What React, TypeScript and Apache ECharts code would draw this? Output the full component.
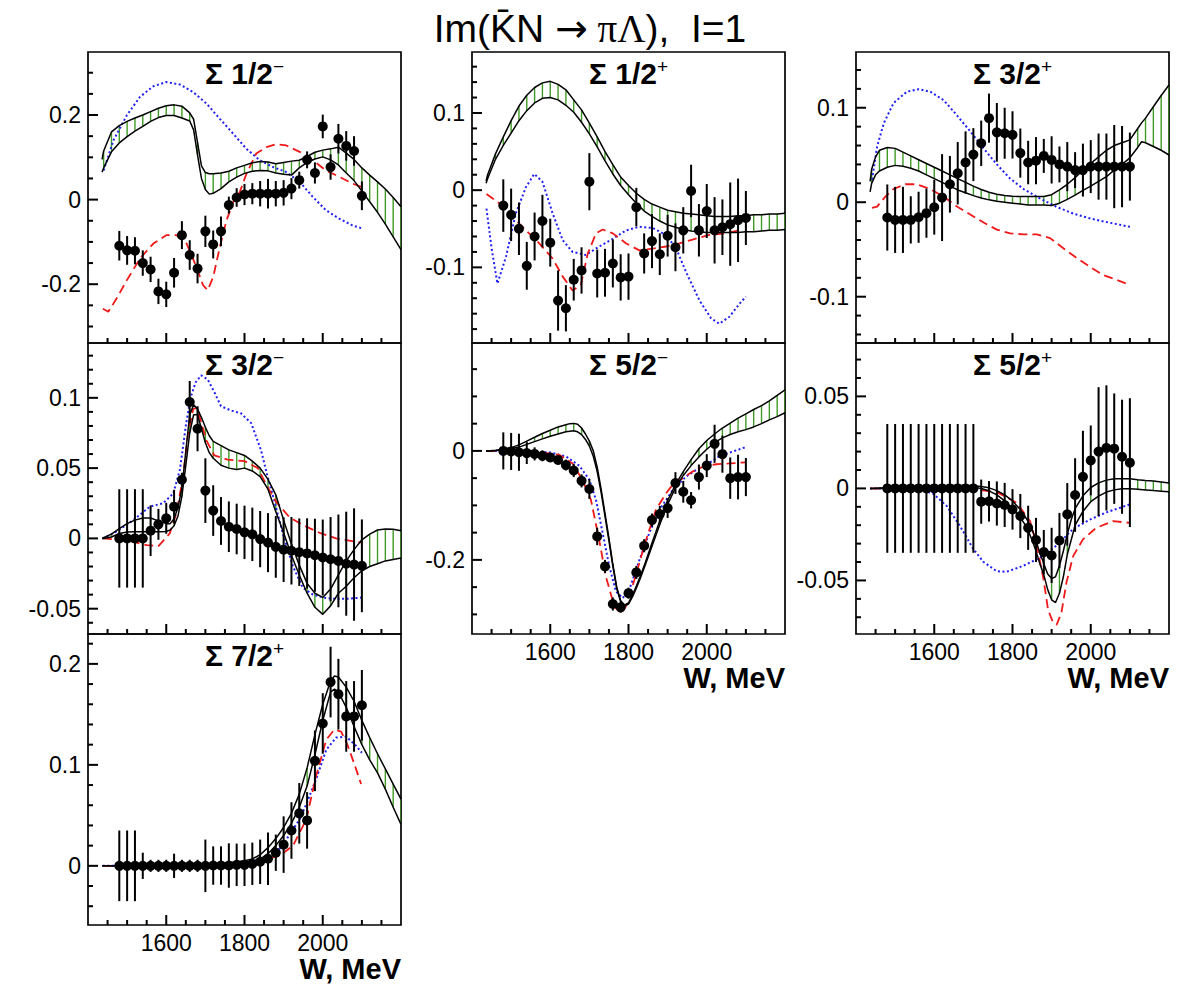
import React, { useEffect, useRef } from 'react';
import * as echarts from 'echarts';

// ---- energies of the single-energy solutions (MeV) ----
const W_POINTS = [1480, 1500, 1520, 1540, 1560, 1580, 1600, 1620, 1640, 1660, 1680, 1700, 1720, 1740, 1760, 1780,
  1800, 1820, 1840, 1860, 1880, 1900, 1920, 1940, 1960, 1980, 2000, 2020, 2040, 2060, 2080, 2100];

// ---- Σ 1/2− ----
const S12M_VAL = [-0.109, -0.120, -0.121, -0.150, -0.165, -0.217, -0.224, -0.173, -0.084, -0.131, -0.163, -0.075, -0.106, -0.075, -0.013, 0.005,
  0.012, 0.014, 0.014, 0.014, 0.014, 0.016, 0.026, 0.046, 0.094, 0.063, 0.173, 0.077, 0.144, 0.127, 0.115, 0.009];
const S12M_ERR = [0.035, 0.034, 0.032, 0.03, 0.03, 0.03, 0.03, 0.035, 0.033, 0.035, 0.035, 0.037, 0.033, 0.035, 0.02, 0.022,
  0.025, 0.025, 0.03, 0.035, 0.03, 0.03, 0.025, 0.02, 0.02, 0.025, 0.028, 0.03, 0.035, 0.035, 0.035, 0.034];
const S12M_BAND_W = [1436, 1440, 1460, 1480, 1500, 1520, 1540, 1560, 1580, 1600, 1620, 1640, 1660, 1670, 1680, 1690, 1700, 1710, 1720,
  1740, 1760, 1780, 1800, 1820, 1840, 1860, 1880, 1900, 1920, 1940, 1960, 1980, 2000, 2020, 2040, 2060, 2080, 2100, 2120, 2140, 2160, 2180, 2200];
const S12M_BAND_HI = [0.095, 0.115, 0.16, 0.175, 0.185, 0.193, 0.2, 0.208, 0.216, 0.222, 0.224, 0.221, 0.205, 0.19, 0.135, 0.08, 0.064, 0.061, 0.061,
  0.063, 0.067, 0.075, 0.081, 0.087, 0.09, 0.089, 0.085, 0.088, 0.091, 0.093, 0.102, 0.112, 0.117, 0.12, 0.124, 0.11, 0.095, 0.075, 0.058, 0.042, 0.025, 0.005, -0.017];
const S12M_BAND_LO = [0.065, 0.075, 0.113, 0.134, 0.149, 0.162, 0.173, 0.185, 0.194, 0.199, 0.199, 0.193, 0.186, 0.165, 0.105, 0.05, 0.024, 0.013, 0.015,
  0.026, 0.042, 0.053, 0.062, 0.067, 0.069, 0.068, 0.063, 0.06, 0.058, 0.075, 0.088, 0.096, 0.101, 0.094, 0.082, 0.063, 0.045, 0.02, -0.005, -0.03, -0.058, -0.088, -0.118];
const S12M_BLUE = [[1440, 0.069], [1465, 0.14], [1499, 0.199], [1533, 0.243], [1567, 0.268], [1600, 0.278], [1635, 0.272], [1669, 0.254],
  [1703, 0.227], [1737, 0.191], [1771, 0.156], [1805, 0.12], [1839, 0.093], [1873, 0.077], [1907, 0.065], [1941, 0.042], [1975, 0.006],
  [2008, -0.025], [2042, -0.045], [2076, -0.061], [2100, -0.068]];
const S12M_RED = [[1438, -0.258], [1452, -0.265], [1473, -0.234], [1499, -0.191], [1533, -0.139], [1567, -0.104], [1600, -0.084], [1626, -0.084],
  [1652, -0.104], [1677, -0.159], [1694, -0.202], [1706, -0.214], [1720, -0.183], [1737, -0.112], [1754, -0.049], [1771, -0.006], [1788, 0.018],
  [1805, 0.061], [1830, 0.109], [1856, 0.124], [1881, 0.131], [1907, 0.128], [1941, 0.113], [1975, 0.093], [2008, 0.069], [2042, 0.054],
  [2076, 0.038], [2098, 0.03]];

// ---- Σ 3/2− ----
const S32M_VAL = [0, 0, 0, 0, 0.0055, 0.01, 0.0143, 0.0226, 0.0417, 0.097, 0.078, 0.034, 0.0198, 0.0124, 0.0083, 0.0067,
  0.0043, 0.0029, -0.0005, -0.003, -0.006, -0.008, -0.0088, -0.0098, -0.0107, -0.012, -0.0136, -0.0148, -0.016, -0.018, -0.0186, -0.0195];
const S32M_ERR = [0.035, 0.035, 0.035, 0.035, 0.018, 0.011, 0.011, 0.012, 0.005, 0.015, 0.016, 0.023, 0.018, 0.017, 0.018, 0.018,
  0.019, 0.019, 0.02, 0.021, 0.022, 0.023, 0.024, 0.024, 0.025, 0.026, 0.027, 0.03, 0.033, 0.037, 0.04, 0.033];
const S32M_BAND_W = [1436, 1440, 1460, 1480, 1500, 1520, 1540, 1560, 1580, 1600, 1610, 1620, 1630, 1640, 1650, 1660, 1670, 1680, 1690, 1700, 1710, 1720,
  1740, 1760, 1780, 1800, 1820, 1840, 1860, 1880, 1900, 1920, 1940, 1960, 1980, 2000, 2020, 2040, 2060, 2080, 2100, 2120, 2140, 2160, 2180, 2200];
const S32M_BAND_HI = [0, 0.0005, 0.003, 0.007, 0.0105, 0.013, 0.0145, 0.0145, 0.0125, 0.0105, 0.0105, 0.014, 0.022, 0.036, 0.062, 0.088, 0.095, 0.092, 0.086, 0.079, 0.073, 0.069,
  0.066, 0.063, 0.061, 0.059, 0.055, 0.05, 0.042, 0.031, 0.013, -0.004, -0.019, -0.032, -0.039, -0.042, -0.036, -0.026, -0.016, -0.008, -0.001, 0.003, 0.006, 0.0067, 0.0065, 0.0055];
const S32M_BAND_LO = [0, 0, 0.001, 0.0035, 0.0045, 0.0048, 0.0048, 0.0048, 0.0048, 0.005, 0.006, 0.009, 0.016, 0.03, 0.052, 0.075, 0.088, 0.088, 0.078, 0.068, 0.061, 0.057,
  0.052, 0.05, 0.049, 0.05, 0.048, 0.044, 0.035, 0.019, 0.004, -0.012, -0.026, -0.039, -0.049, -0.054, -0.048, -0.039, -0.034, -0.028, -0.023, -0.02, -0.018, -0.016, -0.015, -0.014];
const S32M_BLUE = [[1438, 0], [1473, 0.005], [1516, 0.013], [1558, 0.0226], [1592, 0.025], [1618, 0.032], [1635, 0.049], [1650, 0.08], [1662, 0.1],
  [1675, 0.111], [1689, 0.116], [1706, 0.113], [1723, 0.104], [1740, 0.094], [1766, 0.091], [1791, 0.089], [1817, 0.082], [1842, 0.063],
  [1859, 0.044], [1873, 0.03], [1898, 0.0036], [1924, -0.02], [1949, -0.035], [1975, -0.04], [2000, -0.042], [2026, -0.043], [2060, -0.043], [2102, -0.042]];
const S32M_RED = [[1438, 0], [1473, -0.0007], [1516, -0.0024], [1550, -0.0048], [1580, -0.0055], [1609, 0.0036], [1626, 0.018], [1643, 0.044],
  [1656, 0.075], [1669, 0.092], [1679, 0.093], [1690, 0.082], [1702, 0.07], [1723, 0.059], [1757, 0.056], [1800, 0.055], [1834, 0.05],
  [1856, 0.038], [1881, 0.026], [1915, 0.015], [1949, 0.0095], [1992, 0.004], [2034, 0], [2076, -0.002], [2102, -0.003]];

// ---- Σ 7/2+ ----
const S72P_VAL = [0, 0, 0, 0, 0, 0, 0, 0, 0, 0, 0, 0, 0.0003, 0.0003, 0.0003, 0.001,
  0.001, 0.002, 0.004, 0.007, 0.013, 0.021, 0.035, 0.052, 0.045, 0.104, 0.141, 0.182, 0.17, 0.148, 0.148, 0.159];
const S72P_ERR = [0.035, 0.035, 0.035, 0.013, 0.006, 0.006, 0.006, 0.012, 0.006, 0.006, 0.006, 0.026, 0.019, 0.019, 0.022, 0.021,
  0.021, 0.021, 0.022, 0.026, 0.018, 0.028, 0.028, 0.03, 0.028, 0.03, 0.03, 0.035, 0.035, 0.035, 0.035, 0.035];
const S72P_BAND_W = [1436, 1440, 1460, 1480, 1500, 1520, 1540, 1560, 1580, 1600, 1620, 1640, 1660, 1680, 1700, 1720, 1740, 1760, 1780, 1800,
  1820, 1840, 1860, 1880, 1900, 1920, 1940, 1960, 1980, 2000, 2020, 2030, 2040, 2060, 2080, 2100, 2120, 2140, 2160, 2180, 2200];
const S72P_BAND_HI = [0, 0, 0.0001, 0.0002, 0.0003, 0.0004, 0.0005, 0.0006, 0.0007, 0.0008, 0.0009, 0.001, 0.001, 0.001, 0.001, 0.0015, 0.002, 0.003, 0.004, 0.005,
  0.0068, 0.011, 0.018, 0.027, 0.038, 0.052, 0.071, 0.097, 0.13, 0.16, 0.183, 0.188, 0.187, 0.177, 0.163, 0.144, 0.127, 0.111, 0.096, 0.081, 0.066];
const S72P_BAND_LO = [0, 0, 0, 0, 0, 0, 0, 0, 0.0001, 0.0002, 0.0003, 0.0004, 0.0005, 0.0006, 0.0008, 0.001, 0.0013, 0.0017, 0.0022, 0.003,
  0.004, 0.0066, 0.012, 0.02, 0.03, 0.042, 0.058, 0.079, 0.11, 0.144, 0.172, 0.175, 0.172, 0.157, 0.138, 0.12, 0.105, 0.092, 0.076, 0.058, 0.041];
const S72P_BLUE = [[1438, 0], [1700, 0], [1780, 0.001], [1839, 0.0066], [1882, 0.013], [1907, 0.026], [1941, 0.046], [1960, 0.063],
  [1983, 0.086], [2009, 0.115], [2034, 0.127], [2060, 0.128], [2085, 0.119], [2100, 0.112]];
const S72P_RED = [[1438, 0], [1700, 0], [1780, 0.001], [1839, 0.005], [1890, 0.01], [1924, 0.02], [1958, 0.046], [1983, 0.089],
  [2009, 0.125], [2030, 0.135], [2047, 0.133], [2064, 0.119], [2085, 0.096], [2098, 0.081]];

// ---- Σ 1/2+ ----
const S12P_VAL = [-0.02, -0.032, -0.05, -0.098, -0.06, -0.04, -0.068, -0.143, -0.153, -0.116, -0.104, 0.011, -0.108, -0.107, -0.095, -0.113,
  -0.112, -0.022, -0.082, -0.066, -0.083, -0.059, -0.074, -0.052, -0.001, -0.052, -0.027, -0.052, -0.048, -0.044, -0.039, -0.036];
const S12P_ERR = [0.034, 0.034, 0.034, 0.031, 0.031, 0.034, 0.031, 0.039, 0.03, 0.027, 0.03, 0.037, 0.031, 0.031, 0.031, 0.03,
  0.03, 0.025, 0.026, 0.035, 0.027, 0.027, 0.031, 0.03, 0.034, 0.034, 0.035, 0.043, 0.036, 0.054, 0.054, 0.035];
const S12P_BAND_W = [1436, 1440, 1460, 1480, 1500, 1520, 1540, 1560, 1580, 1600, 1620, 1640, 1660, 1680, 1700, 1720, 1740, 1760, 1780, 1800,
  1820, 1840, 1860, 1880, 1900, 1920, 1940, 1960, 1980, 2000, 2020, 2040, 2060, 2080, 2100, 2120, 2140, 2160, 2180, 2200];
const S12P_BAND_HI = [0.012, 0.02, 0.047, 0.069, 0.09, 0.109, 0.123, 0.133, 0.139, 0.141, 0.137, 0.13, 0.117, 0.104, 0.087, 0.069, 0.05, 0.033, 0.017, 0.006,
  -0.004, -0.012, -0.018, -0.022, -0.026, -0.028, -0.03, -0.031, -0.032, -0.033, -0.034, -0.034, -0.034, -0.033, -0.033, -0.032, -0.032, -0.031, -0.031, -0.03];
const S12P_BAND_LO = [0.009, 0.015, 0.04, 0.058, 0.074, 0.09, 0.103, 0.113, 0.119, 0.12, 0.117, 0.11, 0.101, 0.088, 0.073, 0.056, 0.038, 0.021, 0.006, -0.006,
  -0.017, -0.027, -0.034, -0.04, -0.045, -0.048, -0.051, -0.053, -0.054, -0.055, -0.055, -0.055, -0.055, -0.055, -0.054, -0.054, -0.053, -0.052, -0.052, -0.051];
const S12P_BLUE = [[1437, -0.024], [1450, -0.075], [1465, -0.121], [1487, -0.086], [1512, -0.03], [1538, 0.004], [1559, 0.021], [1580, 0.011],
  [1606, -0.03], [1632, -0.065], [1657, -0.08], [1691, -0.084], [1725, -0.073], [1760, -0.063], [1794, -0.052], [1828, -0.0475], [1862, -0.049],
  [1896, -0.058], [1922, -0.0756], [1947, -0.106], [1981, -0.1425], [2011, -0.166], [2032, -0.173], [2058, -0.164], [2084, -0.147], [2100, -0.138]];
const S12P_RED = [[1437, -0.005], [1470, -0.017], [1504, -0.035], [1538, -0.052], [1572, -0.069], [1606, -0.0885], [1632, -0.112], [1657, -0.13],
  [1678, -0.123], [1696, -0.082], [1717, -0.056], [1734, -0.051], [1760, -0.056], [1794, -0.069], [1828, -0.078], [1862, -0.0756], [1896, -0.073],
  [1930, -0.069], [1964, -0.064], [2007, -0.058], [2049, -0.056], [2084, -0.052]];

// ---- Σ 5/2− ----
const S52M_VAL = [0, -0.001, -0.0025, -0.004, -0.0055, -0.009, -0.012, -0.0165, -0.026, -0.036, -0.055, -0.07, -0.157, -0.212, -0.281, -0.287,
  -0.261, -0.223, -0.174, -0.127, -0.116, -0.105, -0.059, -0.075, -0.0905, -0.048, -0.027, 0.013, -0.006, -0.05, -0.048, -0.048];
const S52M_ERR = [0.034, 0.034, 0.034, 0.02, 0.012, 0.01, 0.008, 0.008, 0.01, 0.012, 0.012, 0.018, 0.016, 0.012, 0.012, 0.01,
  0.01, 0.012, 0.012, 0.012, 0.015, 0.018, 0.02, 0.02, 0.015, 0.023, 0.021, 0.035, 0.034, 0.038, 0.041, 0.035];
const S52M_BAND_W = [1436, 1440, 1460, 1480, 1500, 1520, 1540, 1560, 1580, 1600, 1620, 1640,
  1650, 1660, 1670, 1680, 1690, 1700, 1710, 1720, 1730, 1740, 1750, 1760, 1770, 1780, 1790, 1800, 1810, 1820, 1830, 1840, 1850, 1860,
  1880, 1900, 1920, 1940, 1960, 1980, 2000, 2020, 2040, 2060, 2080, 2100, 2120, 2140, 2160, 2180, 2200];
const S52M_BAND_HI = [0, 0, 0.001, 0.003, 0.006, 0.011, 0.018, 0.025, 0.032, 0.038, 0.044, 0.048,
  0.05, 0.0505, 0.049, 0.042, 0.031, 0.018, 0, -0.03, -0.07, -0.115, -0.16, -0.208, -0.25, -0.275, -0.283, -0.279, -0.265, -0.248, -0.23, -0.211, -0.19, -0.169,
  -0.128, -0.091, -0.062, -0.038, -0.016, 0.004, 0.019, 0.031, 0.042, 0.051, 0.06, 0.068, 0.076, 0.083, 0.092, 0.102, 0.112];
const S52M_BAND_LO = [0, 0, 0.0005, 0.002, 0.004, 0.007, 0.012, 0.017, 0.022, 0.027, 0.031, 0.035,
  0.036, 0.037, 0.035, 0.03, 0.021, 0.009, -0.01, -0.038, -0.076, -0.12, -0.165, -0.212, -0.253, -0.277, -0.285, -0.281, -0.268, -0.252, -0.234, -0.215, -0.195, -0.175,
  -0.135, -0.098, -0.068, -0.045, -0.027, -0.011, 0.003, 0.015, 0.024, 0.03, 0.035, 0.039, 0.044, 0.05, 0.057, 0.063, 0.07];
const S52M_BLUE = [[1436, 0], [1512, -0.001], [1597, -0.0025], [1640, -0.01], [1674, -0.027], [1700, -0.053], [1717, -0.09], [1734, -0.151],
  [1751, -0.212], [1768, -0.258], [1785, -0.27], [1802, -0.255], [1828, -0.2], [1853, -0.151], [1879, -0.108], [1913, -0.072], [1947, -0.047],
  [1973, -0.035], [1998, -0.026], [2032, -0.01], [2067, -0.001], [2100, 0.007]];
const S52M_RED = [[1436, 0], [1555, -0.001], [1623, -0.007], [1657, -0.023], [1682, -0.053], [1704, -0.09], [1725, -0.163], [1742, -0.23],
  [1764, -0.286], [1781, -0.298], [1793, -0.286], [1815, -0.237], [1845, -0.163], [1870, -0.108], [1896, -0.078], [1913, -0.062], [1939, -0.05],
  [1964, -0.038], [1990, -0.029], [2024, -0.0245], [2058, -0.023], [2100, -0.021]];

// ---- Σ 3/2+ ----
const S32P_VAL = [-0.0162, -0.0187, -0.0187, -0.0187, -0.0159, -0.0116, -0.0053, 0.0049, 0.019, 0.0307, 0.042, 0.0504, 0.0624, 0.089, 0.074, 0.073,
  0.0713, 0.052, 0.042, 0.044, 0.049, 0.0448, 0.04, 0.0377, 0.034, 0.034, 0.0377, 0.0377, 0.0377, 0.0377, 0.0377, 0.0377];
const S32P_ERR = [0.035, 0.035, 0.035, 0.025, 0.027, 0.026, 0.029, 0.046, 0.03, 0.033, 0.033, 0.028, 0.024, 0.026, 0.031, 0.027,
  0.025, 0.026, 0.023, 0.025, 0.018, 0.025, 0.019, 0.026, 0.019, 0.028, 0.028, 0.035, 0.035, 0.044, 0.043, 0.036];
const S32P_BAND_W = [1436, 1440, 1450, 1460, 1480, 1500, 1520, 1540, 1560, 1580, 1600, 1620, 1640, 1660, 1680, 1700, 1720, 1740, 1760, 1780, 1800,
  1820, 1840, 1860, 1880, 1900, 1920, 1940, 1960, 1980, 2000, 2020, 2040, 2060, 2080, 2100, 2120, 2130, 2140, 2160, 2180, 2200];
const S32P_BAND_HI = [0.022, 0.035, 0.048, 0.055, 0.058, 0.057, 0.053, 0.049, 0.045, 0.041, 0.037, 0.033, 0.029, 0.025, 0.021, 0.017, 0.0135, 0.0105, 0.0085, 0.007, 0.0062,
  0.006, 0.006, 0.006, 0.006, 0.008, 0.013, 0.019, 0.026, 0.034, 0.041, 0.048, 0.055, 0.06, 0.063, 0.066, 0.078, 0.084, 0.089, 0.101, 0.113, 0.124];
const S32P_BAND_LO = [0.011, 0.02, 0.029, 0.033, 0.037, 0.039, 0.038, 0.036, 0.033, 0.029, 0.025, 0.021, 0.017, 0.013, 0.01, 0.007, 0.0045, 0.0025, 0.001, 0, -0.001,
  -0.002, -0.003, -0.003, -0.003, -0.0035, -0.001, 0.003, 0.0075, 0.0125, 0.017, 0.022, 0.027, 0.034, 0.04, 0.047, 0.058, 0.064, 0.063, 0.059, 0.055, 0.05];
const S32P_BLUE = [[1441, 0.024], [1454, 0.059], [1471, 0.0836], [1496, 0.105], [1530, 0.117], [1560, 0.1196], [1590, 0.117], [1624, 0.108],
  [1658, 0.092], [1692, 0.075], [1726, 0.057], [1760, 0.04], [1794, 0.025], [1828, 0.014], [1853, 0.008], [1870, 0.004], [1913, -0.005],
  [1955, -0.012], [1997, -0.017], [2040, -0.021], [2100, -0.026]];
const S32P_RED = [[1441, -0.006], [1454, -0.0046], [1475, 0.006], [1496, 0.014], [1526, 0.019], [1556, 0.019], [1590, 0.0138], [1624, 0.006],
  [1658, -0.0046], [1692, -0.013], [1726, -0.0215], [1760, -0.029], [1794, -0.033], [1828, -0.034], [1862, -0.034], [1896, -0.038],
  [1930, -0.0487], [1964, -0.059], [1997, -0.068], [2031, -0.077], [2065, -0.082], [2100, -0.0875]];

// ---- Σ 5/2+ ----
const S52P_VAL = [0, 0, 0, 0, 0, 0, 0, 0, 0, 0, 0, 0, -0.0072, -0.007, -0.0082, -0.009,
  -0.0114, -0.015, -0.0214, -0.028, -0.0346, -0.0364, -0.0283, -0.0141, -0.0036, 0.0063, 0.0152, 0.02, 0.022, 0.0216, 0.0172, 0.014];
const S52P_ERR = [0.035, 0.035, 0.035, 0.035, 0.035, 0.035, 0.035, 0.035, 0.035, 0.035, 0.035, 0.035, 0.012, 0.011, 0.012, 0.012,
  0.011, 0.012, 0.012, 0.012, 0.012, 0.015, 0.015, 0.017, 0.02, 0.025, 0.019, 0.035, 0.034, 0.03, 0.031, 0.035];
const S52P_BAND_W = [1436, 1440, 1460, 1480, 1500, 1520, 1540, 1560, 1580, 1600, 1620, 1640, 1660, 1680, 1700, 1720, 1740, 1760, 1780, 1800, 1820,
  1830, 1840, 1850, 1860, 1870, 1880, 1890, 1900, 1910, 1920, 1930, 1940, 1950, 1960,
  1980, 2000, 2020, 2040, 2060, 2080, 2100, 2120, 2140, 2160, 2180, 2200];
const S52P_BAND_HI = [0, 0, 0.0002, 0.0004, 0.0006, 0.0008, 0.001, 0.0012, 0.0013, 0.0014, 0.0015, 0.0016, 0.0016, 0.0016, 0.0015, 0.001, 0.0003, -0.0012, -0.0035, -0.0068, -0.0115,
  -0.0145, -0.018, -0.022, -0.0285, -0.035, -0.041, -0.0465, -0.049, -0.048, -0.042, -0.034, -0.025, -0.017, -0.011,
  -0.004, 0.0005, 0.003, 0.0045, 0.0052, 0.0053, 0.0052, 0.0047, 0.0043, 0.004, 0.0035, 0.003];
const S52P_BAND_LO = [0, 0, 0, 0.0001, 0.0002, 0.0003, 0.0004, 0.0005, 0.0006, 0.0007, 0.0007, 0.0008, 0.0008, 0.0008, 0.0007, 0, -0.0013, -0.0035, -0.0068, -0.011, -0.0158,
  -0.019, -0.023, -0.028, -0.034, -0.041, -0.047, -0.055, -0.0605, -0.062, -0.057, -0.048, -0.036, -0.028, -0.02,
  -0.0125, -0.0072, -0.0042, -0.002, -0.0008, -0.0002, -0.0002, -0.0004, -0.0008, -0.0012, -0.0015, -0.0018];
const S52P_BLUE = [[1436, 0], [1530, -0.0002], [1573, -0.001], [1598, -0.003], [1632, -0.0096], [1666, -0.0205], [1700, -0.033], [1726, -0.04],
  [1760, -0.045], [1785, -0.0453], [1828, -0.042], [1870, -0.0377], [1913, -0.031], [1955, -0.022], [1997, -0.017], [2040, -0.013], [2100, -0.0087]];
const S52P_RED = [[1436, 0], [1573, -0.0005], [1700, -0.0005], [1760, -0.002], [1811, -0.0078], [1845, -0.0178], [1862, -0.031], [1879, -0.049],
  [1891, -0.066], [1904, -0.073], [1913, -0.074], [1925, -0.0676], [1938, -0.051], [1955, -0.0368], [1980, -0.0277], [2014, -0.0214],
  [2057, -0.0178], [2100, -0.0187]];

// ---- axis ticks ----
const X_RANGE = [1400, 2200];
const X_MAJOR = [1600, 1800, 2000];
const X_MINOR = [1450, 1500, 1550, 1650, 1700, 1750, 1850, 1900, 1950, 2050, 2100, 2150];
const S12M_Y = { min: -0.339, max: 0.349, major: [-0.2, 0, 0.2], minor: [-0.3, -0.25, -0.15, -0.1, -0.05, 0.05, 0.1, 0.15, 0.25, 0.3] };
const S32M_Y = { min: -0.068, max: 0.139, major: [-0.05, 0, 0.05, 0.1], minor: [-0.06, -0.04, -0.03, -0.02, -0.01, 0.01, 0.02, 0.03, 0.04, 0.06, 0.07, 0.08, 0.09, 0.11, 0.12, 0.13] };
const S72P_Y = { min: -0.0586, max: 0.2296, major: [0, 0.1, 0.2], minor: [-0.04, -0.02, 0.02, 0.04, 0.06, 0.08, 0.12, 0.14, 0.16, 0.18, 0.22] };
const S12P_Y = { min: -0.198, max: 0.179, major: [-0.1, 0, 0.1], minor: [-0.18, -0.16, -0.14, -0.12, -0.08, -0.06, -0.04, -0.02, 0.02, 0.04, 0.06, 0.08, 0.12, 0.14, 0.16] };
const S52M_Y = { min: -0.336, max: 0.198, major: [-0.2, 0], minor: [-0.3, -0.25, -0.15, -0.1, -0.05, 0.05, 0.1, 0.15] };
const S32P_Y = { min: -0.149, max: 0.159, major: [-0.1, 0, 0.1], minor: [-0.14, -0.12, -0.08, -0.06, -0.04, -0.02, 0.02, 0.04, 0.06, 0.08, 0.12, 0.14] };
const S52P_Y = { min: -0.0791, max: 0.079, major: [-0.05, 0, 0.05], minor: [-0.07, -0.06, -0.04, -0.03, -0.02, -0.01, 0.01, 0.02, 0.03, 0.04, 0.06, 0.07] };

const X_NAME = 'W, MeV';

// ---- layout ----
const COL_LEFT = [88, 472, 856];
const ROW_TOP = [52, 343, 634];
const PANEL_W = 313;
const PANEL_H = 291;
const MAJOR_LEN = 10;
const MINOR_LEN = 5;
const FONT = "'Liberation Sans', Arial, Helvetica, sans-serif";
const SERIF = "'Liberation Serif', 'DejaVu Serif', serif";
const ARROW_FONT = "'DejaVu Sans', sans-serif";
const GREEN = '#3f9b25';
const BLUE = '#1f1ff5';
const RED = '#f01818';

const PANELS = [
  { spin: '1/2', parity: '\u2212', col: 0, row: 0, y: S12M_Y, xLabels: false, val: S12M_VAL, err: S12M_ERR, bw: S12M_BAND_W, hi: S12M_BAND_HI, lo: S12M_BAND_LO, blue: S12M_BLUE, red: S12M_RED },
  { spin: '3/2', parity: '\u2212', col: 0, row: 1, y: S32M_Y, xLabels: false, val: S32M_VAL, err: S32M_ERR, bw: S32M_BAND_W, hi: S32M_BAND_HI, lo: S32M_BAND_LO, blue: S32M_BLUE, red: S32M_RED },
  { spin: '7/2', parity: '+', col: 0, row: 2, y: S72P_Y, xLabels: true, val: S72P_VAL, err: S72P_ERR, bw: S72P_BAND_W, hi: S72P_BAND_HI, lo: S72P_BAND_LO, blue: S72P_BLUE, red: S72P_RED },
  { spin: '1/2', parity: '+', col: 1, row: 0, y: S12P_Y, xLabels: false, val: S12P_VAL, err: S12P_ERR, bw: S12P_BAND_W, hi: S12P_BAND_HI, lo: S12P_BAND_LO, blue: S12P_BLUE, red: S12P_RED },
  { spin: '5/2', parity: '\u2212', col: 1, row: 1, y: S52M_Y, xLabels: true, val: S52M_VAL, err: S52M_ERR, bw: S52M_BAND_W, hi: S52M_BAND_HI, lo: S52M_BAND_LO, blue: S52M_BLUE, red: S52M_RED },
  { spin: '3/2', parity: '+', col: 2, row: 0, y: S32P_Y, xLabels: false, val: S32P_VAL, err: S32P_ERR, bw: S32P_BAND_W, hi: S32P_BAND_HI, lo: S32P_BAND_LO, blue: S32P_BLUE, red: S32P_RED },
  { spin: '5/2', parity: '+', col: 2, row: 1, y: S52P_Y, xLabels: true, val: S52P_VAL, err: S52P_ERR, bw: S52P_BAND_W, hi: S52P_BAND_HI, lo: S52P_BAND_LO, blue: S52P_BLUE, red: S52P_RED },
];

// vertical hatch stroke between the two band edges
const hatchItem = (_params: any, api: any) => {
  const w = api.value(0);
  const a = api.coord([w, api.value(1)]);
  const b = api.coord([w, api.value(2)]);
  return { type: 'line', shape: { x1: a[0], y1: a[1], x2: b[0], y2: b[1] }, style: { stroke: GREEN, lineWidth: 1.4 } };
};

// symmetric error bar
const errItem = (_params: any, api: any) => {
  const w = api.value(0);
  const v = api.value(1);
  const e = api.value(2);
  const a = api.coord([w, v - e]);
  const b = api.coord([w, v + e]);
  return { type: 'line', shape: { x1: a[0], y1: a[1], x2: b[0], y2: b[1] }, style: { stroke: '#000', lineWidth: 2 } };
};

// frame tick marks: positions follow the same linear value→pixel mapping as the panel's axes
function tickGraphics() {
  const out: any[] = [];
  PANELS.forEach((p) => {
    const left = COL_LEFT[p.col];
    const top = ROW_TOP[p.row];
    const bottom = top + PANEL_H;
    const xPx = (w: number) => left + ((w - X_RANGE[0]) / (X_RANGE[1] - X_RANGE[0])) * PANEL_W;
    const yPx = (v: number) => bottom - ((v - p.y.min) / (p.y.max - p.y.min)) * PANEL_H;
    const add = (x1: number, y1: number, x2: number, y2: number) =>
      out.push({ type: 'line', z: 30, shape: { x1, y1, x2, y2 }, style: { stroke: '#000', lineWidth: 2 } });
    X_MAJOR.forEach((w) => add(xPx(w), bottom, xPx(w), bottom - MAJOR_LEN));
    X_MINOR.forEach((w) => add(xPx(w), bottom, xPx(w), bottom - MINOR_LEN));
    p.y.major.forEach((v) => add(left, yPx(v), left + MAJOR_LEN, yPx(v)));
    p.y.minor.forEach((v) => add(left, yPx(v), left + MINOR_LEN, yPx(v)));
  });
  return out;
}

function textGraphics() {
  const out: any[] = [];
  PANELS.forEach((p) => {
    const left = COL_LEFT[p.col];
    const top = ROW_TOP[p.row];
    // panel heading, e.g. Σ 1/2−
    out.push({
      type: 'text', x: left + PANEL_W / 2, y: top + 21, z: 10,
      style: {
        text: `{m|\u03a3 ${p.spin}}{s|${p.parity}}`,
        align: 'center', verticalAlign: 'middle', fill: '#000',
        rich: {
          m: { fontSize: 30, fontWeight: 'bold', fontFamily: FONT, lineHeight: 32, fill: '#000' },
          s: { fontSize: 19, fontFamily: FONT, lineHeight: 10, verticalAlign: 'top', fill: '#000' },
        },
      },
    });
    if (p.xLabels) {
      out.push({
        type: 'text', x: left + PANEL_W, y: top + PANEL_H + 44, z: 10,
        style: { text: X_NAME, align: 'right', verticalAlign: 'middle', fill: '#000', fontSize: 29, fontWeight: 'bold', fontFamily: FONT },
      });
    }
  });
  // figure title: Im(K̄N → πΛ), I=1
  out.push({
    type: 'text', x: 590, y: 28, z: 10,
    style: {
      text: '{a|Im(K\u0304N }{c|\u2192}{b| \u03c0\u039b}{a|),  I=1}',
      align: 'center', verticalAlign: 'middle', fill: '#000',
      rich: {
        a: { fontSize: 39, fontFamily: FONT, fill: '#000' },
        b: { fontSize: 39, fontFamily: SERIF, fill: '#000' },
        c: { fontSize: 39, fontFamily: ARROW_FONT, fill: '#000' },
      },
    },
  });
  return out;
}

function buildOption() {
  const grid: any[] = [];
  const xAxis: any[] = [];
  const yAxis: any[] = [];
  const series: any[] = [];

  PANELS.forEach((p, i) => {
    const left = COL_LEFT[p.col];
    const top = ROW_TOP[p.row];
    grid.push({ left, top, width: PANEL_W, height: PANEL_H, show: true, borderColor: '#000', borderWidth: 1.7 });
    xAxis.push({
      type: 'value', gridIndex: i, min: X_RANGE[0], max: X_RANGE[1], interval: 200,
      axisLine: { show: false, onZero: false },
      axisTick: { show: false },
      splitLine: { show: false },
      axisLabel: {
        show: p.xLabels, margin: 6, fontSize: 23, color: '#000', fontFamily: FONT,
        formatter: (v: number) => (X_MAJOR.includes(v) ? String(v) : ''),
      },
    });
    yAxis.push({
      type: 'value', gridIndex: i, min: p.y.min, max: p.y.max,
      axisLine: { show: false, onZero: false }, splitLine: { show: false },
      axisTick: { show: false },
      axisLabel: { show: true, customValues: p.y.major, margin: 7, fontSize: 23, color: '#000', fontFamily: FONT },
    });

    series.push({
      type: 'custom', xAxisIndex: i, yAxisIndex: i, renderItem: hatchItem, clip: true, silent: true, z: 1,
      encode: { x: 0, y: [1, 2] },
      data: p.bw.map((w, k) => [w, p.hi[k], p.lo[k]]).filter((d) => d[0] % 20 === 0),
    });
    [p.hi, p.lo].forEach((edge) => {
      series.push({
        type: 'line', xAxisIndex: i, yAxisIndex: i, symbol: 'none', silent: true, z: 3, clip: true,
        lineStyle: { color: '#000', width: 1.5 },
        data: p.bw.map((w, k) => [w, edge[k]]),
      });
    });
    series.push({
      type: 'line', xAxisIndex: i, yAxisIndex: i, symbol: 'none', silent: true, z: 2, clip: true,
      lineStyle: { color: BLUE, width: 2, type: [2, 2.5] }, data: p.blue,
    });
    series.push({
      type: 'line', xAxisIndex: i, yAxisIndex: i, symbol: 'none', silent: true, z: 2, clip: true,
      lineStyle: { color: RED, width: 1.8, type: [9, 5] }, data: p.red,
    });
    series.push({
      type: 'custom', xAxisIndex: i, yAxisIndex: i, renderItem: errItem, clip: true, silent: true, z: 4,
      encode: { x: 0, y: 1 },
      data: W_POINTS.map((w, k) => [w, p.val[k], p.err[k]]),
    });
    series.push({
      type: 'scatter', xAxisIndex: i, yAxisIndex: i, symbol: 'circle', symbolSize: 10, silent: true, z: 5,
      itemStyle: { color: '#000', opacity: 1 },
      data: W_POINTS.map((w, k) => [w, p.val[k]]),
    });
  });

  return { animation: false, grid, xAxis, yAxis, series, graphic: [...tickGraphics(), ...textGraphics()] };
}

export default function App() {
  const ref = useRef<HTMLDivElement>(null);
  useEffect(() => {
    if (!ref.current) return;
    const chart = echarts.init(ref.current, undefined, { renderer: 'svg' });
    chart.setOption(buildOption() as any);
    return () => chart.dispose();
  }, []);
  return <div ref={ref} style={{ position: 'absolute', left: 0, top: 0, width: 1182, height: 986, background: '#fff' }} />;
}
